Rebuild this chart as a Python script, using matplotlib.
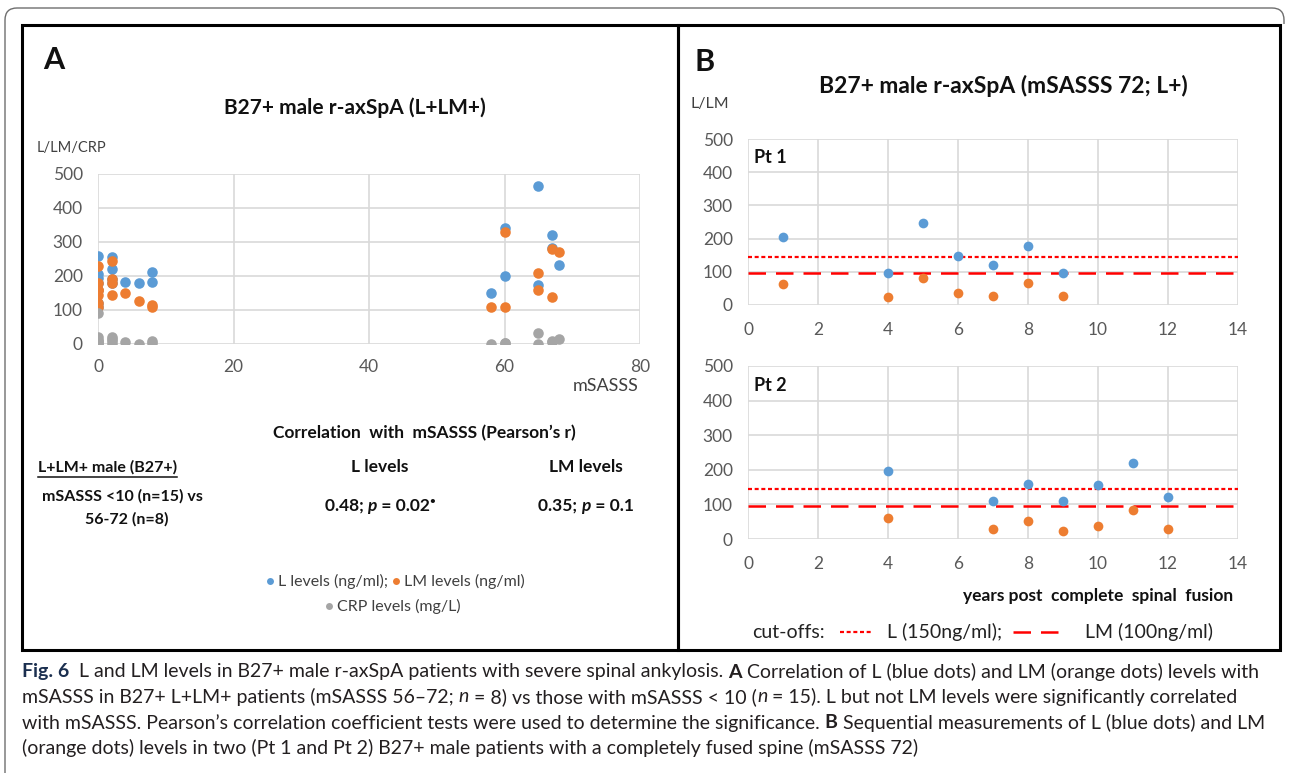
import matplotlib
matplotlib.use("Agg")
import matplotlib.pyplot as plt
from matplotlib.lines import Line2D
from matplotlib.patches import Rectangle, PathPatch
from matplotlib.path import Path

# ---------------- data ----------------
# Panel A: mSASSS vs L / LM / CRP
a_x = [0, 0, 0, 0, 0, 0, 0, 2, 2, 2, 2, 4, 6, 8, 8,
       58, 60, 60, 65, 65, 67, 67, 68]
a_L = [260, 207, 193, 160, 178, 120, 108, 257, 222, 190, 178, 181, 178, 211, 181,
       151, 342, 200, 465, 173, 320, 283, 233]
a_LM = [228, 178, 158, 143, 120, 108, 160, 245, 190, 178, 143, 149, 126, 114, 108,
        109, 329, 109, 210, 160, 279, 139, 272]
a_CRP = [12, 5, 0, 20, 90, 3, 8, 20, 8, 0, 15, 5, 0, 10, 3,
         0, 2, 3, 32, 0, 5, 10, 15]
a_xticks = [0, 20, 40, 60, 80]
a_yticks = [0, 100, 200, 300, 400, 500]

# Panel B: sequential measurements
pt1_years = [1, 4, 5, 6, 7, 8, 9]
pt1_L = [205, 96, 246, 149, 119, 177, 96]
pt1_LM = [62, 23, 80, 37, 28, 65, 28]
pt2_years = [4, 7, 8, 9, 10, 11, 12]
pt2_L = [196, 109, 159, 109, 155, 219, 121]
pt2_LM = [61, 29, 52, 24, 37, 83, 29]
cut_L = 145
cut_LM = 96
b_xticks = [0, 2, 4, 6, 8, 10, 12, 14]
b_yticks = [0, 100, 200, 300, 400, 500]

# ---------------- style ----------------
BLUE = "#5B9BD5"
ORANGE = "#ED7D31"
GRAY = "#A5A5A5"
GRID = "#D9D9D9"
TICK = "#595959"
DARK = "#111111"
plt.rcParams["font.family"] = ["Lato", "DejaVu Sans"]

W, H = 1289, 773
fig = plt.figure(figsize=(W / 100, H / 100), dpi=100)
fig.patch.set_facecolor("white")
renderer = fig.canvas.get_renderer()


def fx(x):
    return x / W


def fy(y):
    return 1 - y / H


def axrect(x0, ytop, x1, ybot):
    return [fx(x0), fy(ybot), (x1 - x0) / W, (ybot - ytop) / H]


def style_ax(ax, xt, yt, xlim, ylim, xpad, ypad, size):
    ax.set_xlim(*xlim)
    ax.set_ylim(*ylim)
    ax.set_xticks(xt)
    ax.set_yticks(yt)
    ax.grid(True, color=GRID, lw=1.2, zorder=0)
    ax.set_axisbelow(True)
    for s in ax.spines.values():
        s.set_visible(False)
    ax.tick_params(axis="both", length=0, colors=TICK, labelsize=size)
    ax.tick_params(axis="x", pad=xpad)
    ax.tick_params(axis="y", pad=ypad)
    ax.patch.set_alpha(0)


def txt(x, y, s, **kw):
    kw.setdefault("va", "center")
    kw.setdefault("ha", "left")
    return fig.text(fx(x), fy(y), s, **kw)


def rich(x, y, segs, align="left", **common):
    """segs: list of (text, kwargs) or ('@dot', color) markers."""
    cur = x
    arts = []
    for s, kw in segs:
        if s == "@dot":
            m = Line2D([fx(cur + 4)], [fy(y)], marker="o", ms=5, mew=0, color=kw,
                       transform=fig.transFigure)
            fig.add_artist(m)
            arts.append(("dot", m))
            cur += 12
            continue
        opts = dict(common)
        opts.update(kw)
        t = txt(cur, y, s, **opts)
        arts.append(("txt", t))
        cur += t.get_window_extent(renderer).width
    if align == "center":
        shift = (cur - x) / 2 / W
        for kind, a in arts:
            if kind == "txt":
                px, py = a.get_position()
                a.set_x(px - shift)
            else:
                xd = a.get_xdata()
                a.set_xdata([xd[0] - shift])
    return cur


# ---------------- frames ----------------
r = 12
verts = [(fx(5), fy(773)), (fx(5), fy(8 + r)), (fx(5), fy(8)), (fx(5 + r), fy(8)),
         (fx(1284 - r), fy(8)), (fx(1284), fy(8)), (fx(1284), fy(8 + r)), (fx(1284), fy(24))]
codes = [Path.MOVETO, Path.LINETO, Path.CURVE3, Path.CURVE3,
         Path.LINETO, Path.CURVE3, Path.CURVE3, Path.LINETO]
fig.add_artist(PathPatch(Path(verts, codes), fill=False, ec="#6e6e6e", lw=1.0,
                         transform=fig.transFigure))

for (x0, y0, x1, y1) in [(22, 25, 678, 650), (678, 25, 1280, 650)]:
    fig.add_artist(Rectangle((fx(x0), fy(y1)), (x1 - x0) / W, (y1 - y0) / H,
                             fill=False, ec="black", lw=2.2, transform=fig.transFigure))

# ---------------- Panel A ----------------
axA = fig.add_axes(axrect(98, 174, 640, 344))
style_ax(axA, a_xticks, a_yticks, (0, 80), (0, 500), 11, 11, 12.5)
ms = 7.6
axA.plot(a_x, a_L, "o", color=BLUE, ms=ms, mew=0, zorder=3)
axA.plot(a_x, a_LM, "o", color=ORANGE, ms=ms, mew=0, zorder=4)
axA.plot(a_x, a_CRP, "o", color=GRAY, ms=ms, mew=0, zorder=5)

txt(43, 60, "A", fontsize=22, fontweight="bold", color=DARK)
txt(355, 108, "B27+ male r-axSpA (L+LM+)", ha="center", fontsize=15,
    fontweight="bold", color=DARK)
txt(37, 148, "L/LM/CRP", fontsize=10.5, color="#404040")
txt(606, 386, "mSASSS", ha="center", fontsize=13, color="#404040")

BK = dict(fontweight="bold", color=DARK, fontsize=12.5)
BS = dict(fontweight="bold", color=DARK, fontsize=11.5)
txt(424, 433, "Correlation  with  mSASSS (Pearson\u2019s r)", ha="center", **BK)
t = txt(38, 467, "L+LM+ male (B27+)", **BS)
wl = t.get_window_extent(renderer).width
fig.add_artist(Line2D([fx(38), fx(38 + wl)], [fy(477), fy(477)], color=DARK, lw=1.1))
txt(380, 467, "L levels", ha="center", **BK)
txt(586, 467, "LM levels", ha="center", **BK)
txt(122, 496, "mSASSS <10 (n=15) vs", ha="center", **BS)
txt(127, 519, "56-72 (n=8)", ha="center", **BS)
rich(380, 506, [("0.48; ", {}), ("p", {"style": "italic"}), (" = 0.02", {}),
                ("\u2022", {"fontsize": 7, "va": "bottom"})], align="center", **BK)
rich(586, 506, [("0.35; ", {}), ("p", {"style": "italic"}), (" = 0.1", {})],
     align="center", **BK)

# legend
LG = dict(fontsize=11.5, color="#404040")
rich(395, 581, [("@dot", BLUE), ("L levels (ng/ml); ", {}), ("@dot", ORANGE),
                ("LM levels (ng/ml)", {})], align="center", **LG)
rich(393, 606, [("@dot", GRAY), ("CRP levels (mg/L)", {})], align="center", **LG)

# ---------------- Panel B ----------------
txt(695, 62, "B", fontsize=22, fontweight="bold", color=DARK)
txt(1003, 86, "B27+ male r-axSpA (mSASSS 72; L+)", ha="center", fontsize=16.5,
    fontweight="bold", color=DARK)
txt(691, 104, "L/LM", fontsize=11.5, color="#404040")

bms = 7.0
for (rect, yrs, Lv, LMv, lab) in [((748, 139, 1238, 305), pt1_years, pt1_L, pt1_LM, "Pt 1"),
                                   ((748, 366, 1238, 539), pt2_years, pt2_L, pt2_LM, "Pt 2")]:
    ax = fig.add_axes(axrect(*rect))
    style_ax(ax, b_xticks, b_yticks, (0, 14), (0, 500), 12, 11, 12.5)
    ax.axhline(cut_L, color="#FF0000", lw=1.6, ls=(0, (1.8, 1.2)), zorder=2)
    ax.axhline(cut_LM, color="#FF0000", lw=1.8, ls=(0, (7, 4)), zorder=2)
    ax.plot(yrs, Lv, "o", color=BLUE, ms=bms, mew=0, zorder=3)
    ax.plot(yrs, LMv, "o", color=ORANGE, ms=bms, mew=0, zorder=4)
    ax.text(0.012, 0.89, lab, transform=ax.transAxes, fontsize=13, fontweight="bold",
            color=DARK, va="center", ha="left")

txt(1233, 596, "years post  complete  spinal  fusion", ha="right", fontsize=12.5,
    fontweight="bold", color=DARK)

CK = dict(fontsize=14, color="#222222")
txt(752, 632, "cut-offs:", **CK)
fig.add_artist(Line2D([fx(840), fx(872)], [fy(632), fy(632)], color="#FF0000", lw=1.6,
                      ls=(0, (1.8, 1.2))))
txt(887, 632, "L (150ng/ml);", **CK)
fig.add_artist(Line2D([fx(1013), fx(1065)], [fy(632), fy(632)], color="#FF0000", lw=1.8,
                      ls=(0, (7, 4))))
txt(1085, 632, "LM (100ng/ml)", **CK)

# ---------------- caption ----------------
cap_kw = dict(fontsize=14, color="#231F20")
B = {"fontweight": "bold"}
I = {"style": "italic"}
N = {}
rich(22, 672, [("Fig. 6", {"fontweight": "bold", "color": "#1b2f4f"}),
               ("  L and LM levels in B27+ male r-axSpA patients with severe spinal ankylosis. ", N),
               ("A", B),
               (" Correlation of L (blue dots) and LM (orange dots) levels with", N)], **cap_kw)
rich(22, 697, [("mSASSS in B27+ L+LM+ patients (mSASSS 56\u201372; ", N), ("n", I),
               (" = 8) vs those with mSASSS < 10 (", N), ("n", I),
               (" = 15). L but not LM levels were significantly correlated", N)], **cap_kw)
rich(22, 723, [("with mSASSS. Pearson\u2019s correlation coefficient tests were used to determine the significance. ", N),
               ("B", B), (" Sequential measurements of L (blue dots) and LM", N)], **cap_kw)
rich(22, 748, [("(orange dots) levels in two (Pt 1 and Pt 2) B27+ male patients with a completely fused spine (mSASSS 72)", N)],
     **cap_kw)

fig.savefig("out.png", dpi=100)
